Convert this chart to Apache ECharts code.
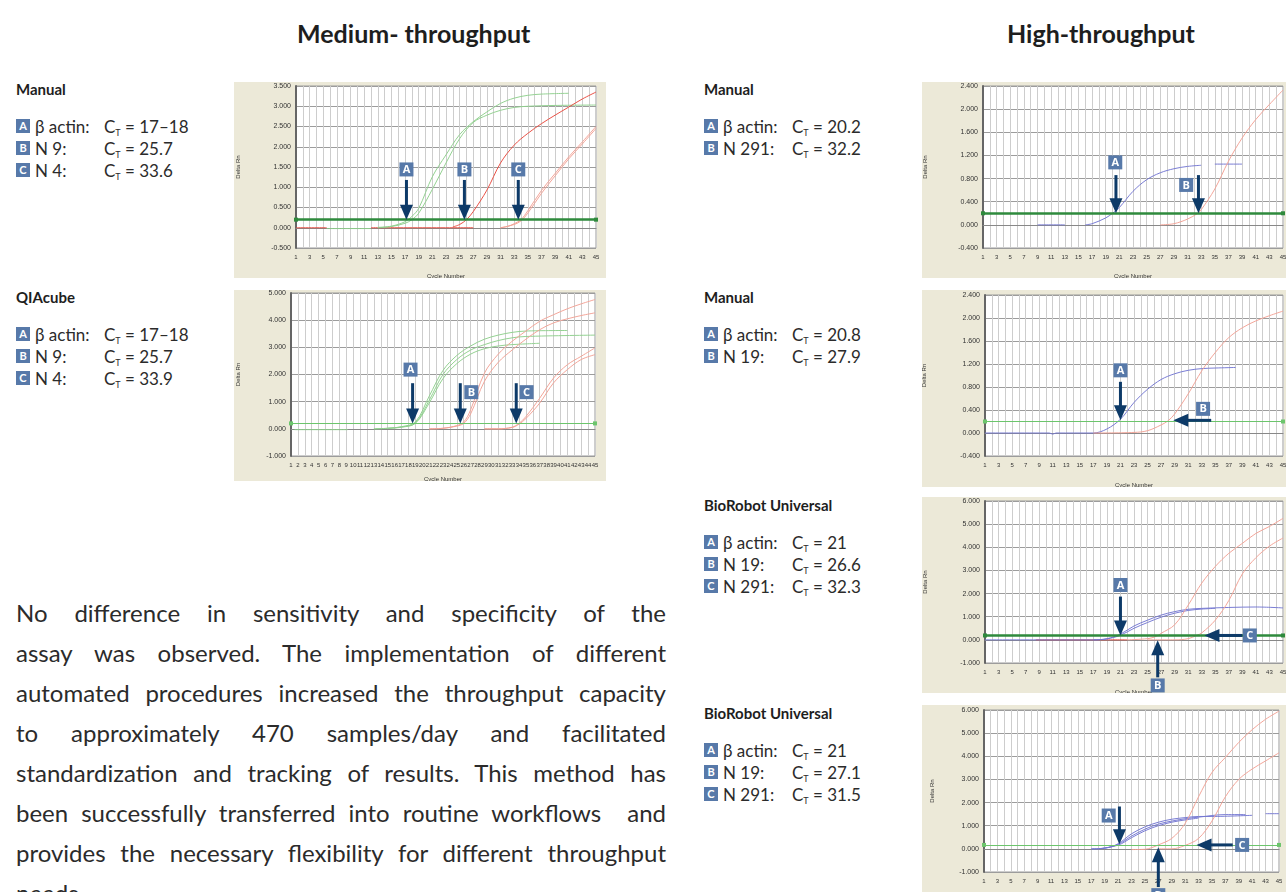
<!DOCTYPE html>
<html lang="en">
<head>
<meta charset="UTF-8">
<title>Medium- and high-throughput</title>
<script src="https://cdn.jsdelivr.net/npm/echarts@6/dist/echarts.min.js"></script>
<style>
    body {margin: 0; width: 1286px; height: 892px; overflow: hidden; position: relative; background: #fff;
        font-family: Lato, "Open Sans", sans-serif; color: #2b2b2b;}
    .head {position: absolute; top: 18px; font-weight: bold; font-size: 25px; color: #1e1e1e;}
    .panel {position: absolute; width: 372px; background: #ece9d8;}
    .key {position: absolute; font-size: 17px;}
    .key .ttl {font-weight: bold; font-size: 15px; height: 36px; color: #1e1e1e;}
    .row {position: relative; height: 22px; white-space: nowrap;}
    .row span {position: absolute; top: 0;}
    .bx {left: 0; top: 3px !important; width: 14px; height: 14px; background: #5779a9; color: #fff;
        font-size: 11px; font-weight: bold; text-align: center; line-height: 14px;}
    .nm {left: 19px;}
    .ct {left: 88px;}
    sub {font-size: 9px; vertical-align: -3px;}
    .para {position: absolute; left: 16px; top: 593px; width: 650px; font-size: 24px; line-height: 40px; color: #2b2b2b;}
    .para div {text-align: justify; text-align-last: justify; white-space: nowrap;}
    .para div.last {text-align-last: left;}
</style>
</head>
<body>
<div class="head" style="left:297px">Medium- throughput</div>
<div class="head" style="left:1007px">High-throughput</div>

<div class="key" style="left:16px;top:80px">
    <div class="ttl">Manual</div>
    <div class="row"><span class="bx">A</span><span class="nm">β actin:</span><span class="ct">C<sub>T</sub> = 17–18</span></div>
    <div class="row"><span class="bx">B</span><span class="nm">N 9:</span><span class="ct">C<sub>T</sub> = 25.7</span></div>
    <div class="row"><span class="bx">C</span><span class="nm">N 4:</span><span class="ct">C<sub>T</sub> = 33.6</span></div>
</div>
<div class="key" style="left:16px;top:288px">
    <div class="ttl">QIAcube</div>
    <div class="row"><span class="bx">A</span><span class="nm">β actin:</span><span class="ct">C<sub>T</sub> = 17–18</span></div>
    <div class="row"><span class="bx">B</span><span class="nm">N 9:</span><span class="ct">C<sub>T</sub> = 25.7</span></div>
    <div class="row"><span class="bx">C</span><span class="nm">N 4:</span><span class="ct">C<sub>T</sub> = 33.9</span></div>
</div>
<div class="key" style="left:704px;top:80px">
    <div class="ttl">Manual</div>
    <div class="row"><span class="bx">A</span><span class="nm">β actin:</span><span class="ct">C<sub>T</sub> = 20.2</span></div>
    <div class="row"><span class="bx">B</span><span class="nm">N 291:</span><span class="ct">C<sub>T</sub> = 32.2</span></div>
</div>
<div class="key" style="left:704px;top:288px">
    <div class="ttl">Manual</div>
    <div class="row"><span class="bx">A</span><span class="nm">β actin:</span><span class="ct">C<sub>T</sub> = 20.8</span></div>
    <div class="row"><span class="bx">B</span><span class="nm">N 19:</span><span class="ct">C<sub>T</sub> = 27.9</span></div>
</div>
<div class="key" style="left:704px;top:496px">
    <div class="ttl">BioRobot Universal</div>
    <div class="row"><span class="bx">A</span><span class="nm">β actin:</span><span class="ct">C<sub>T</sub> = 21</span></div>
    <div class="row"><span class="bx">B</span><span class="nm">N 19:</span><span class="ct">C<sub>T</sub> = 26.6</span></div>
    <div class="row"><span class="bx">C</span><span class="nm">N 291:</span><span class="ct">C<sub>T</sub> = 32.3</span></div>
</div>
<div class="key" style="left:704px;top:704px">
    <div class="ttl">BioRobot Universal</div>
    <div class="row"><span class="bx">A</span><span class="nm">β actin:</span><span class="ct">C<sub>T</sub> = 21</span></div>
    <div class="row"><span class="bx">B</span><span class="nm">N 19:</span><span class="ct">C<sub>T</sub> = 27.1</span></div>
    <div class="row"><span class="bx">C</span><span class="nm">N 291:</span><span class="ct">C<sub>T</sub> = 31.5</span></div>
</div>

<div class="para">
    <div>No difference in sensitivity and specificity of the</div>
    <div>assay was observed. The implementation of different</div>
    <div>automated procedures increased the throughput capacity</div>
    <div>to approximately 470 samples/day and facilitated</div>
    <div>standardization and tracking of results. This method has</div>
    <div>been successfully transferred into routine workflows &nbsp;and</div>
    <div>provides the necessary flexibility for different throughput</div>
    <div class="last">needs.</div>
</div>

<div id="p1" class="panel" style="left:234px;top:82px;height:196px"></div>
<div id="p2" class="panel" style="left:234px;top:290px;height:191px"></div>
<div id="p3" class="panel" style="left:922px;top:82px;height:196px"></div>
<div id="p4" class="panel" style="left:922px;top:290px;height:197px"></div>
<div id="p5" class="panel" style="left:922px;top:497px;height:196px"></div>
<div id="p6" class="panel" style="left:922px;top:705px;height:190px"></div>

<script type="text/javascript">
    // ---- data: [cycle, delta Rn] ----
    // medium, manual
    var m1Range = [-0.5, 3.5, 0.5];
    var m1ActinA = [[13, 0.01], [15, 0.04], [17, 0.15], [18, 0.28], [19, 0.48], [21, 1.26], [23, 1.8], [25, 2.3], [27, 2.62], [29, 2.86], [31, 3.07], [33, 3.2], [35, 3.27], [37, 3.3], [41, 3.32]];
    var m1ActinB = [[13, 0], [15, 0.03], [17, 0.11], [18, 0.2], [19, 0.36], [21, 0.95], [23, 1.6], [25, 2.2], [27, 2.6], [29, 2.78], [31, 2.9], [33, 2.97], [35, 3.0], [39, 3.02], [45, 3.03]];
    var m1N9 = [[24, 0.02], [25, 0.08], [26, 0.2], [27, 0.4], [29, 0.93], [31, 1.6], [33, 2.04], [35, 2.33], [37, 2.57], [39, 2.78], [41, 2.98], [43, 3.18], [45, 3.35]];
    var m1N4a = [[31, 0], [32, 0.03], [33, 0.1], [34, 0.2], [35, 0.42], [37, 0.92], [39, 1.34], [41, 1.75], [43, 2.12], [45, 2.5]];
    var m1N4b = [[31, 0], [33, 0.08], [34, 0.17], [35, 0.36], [37, 0.85], [39, 1.28], [41, 1.7], [43, 2.07], [45, 2.45]];
    var m1BaseRed = [[1, 0], [5.5, 0]];
    var m1BaseGreen = [[5.5, -0.02], [12, -0.02]];
    var m1BaseRed2 = [[12, 0], [27, 0]];

    // medium, QIAcube
    var m2Range = [-1, 5, 1];
    var m2BaseGreen = [[1.5, -0.03], [9.2, -0.03]];
    var m2ActinA = [[13, 0], [15, 0.02], [17, 0.08], [19, 0.25], [21, 1.2], [23, 2.15], [25, 2.7], [27, 3.05], [29, 3.3], [31, 3.45], [33, 3.55], [35, 3.6], [41, 3.62]];
    var m2ActinB = [[13, 0], [15, 0.02], [17, 0.07], [19, 0.22], [21, 1.05], [23, 2.0], [25, 2.55], [27, 2.9], [29, 3.1], [31, 3.25], [33, 3.35], [35, 3.4], [45, 3.45]];
    var m2ActinC = [[15, 0.02], [17, 0.06], [19, 0.2], [21, 0.95], [23, 1.85], [25, 2.4], [27, 2.75], [29, 2.95], [31, 3.05], [33, 3.1], [37, 3.15]];
    var m2N9a = [[21, 0], [23, 0.02], [25, 0.12], [26, 0.25], [27, 0.7], [29, 2.05], [31, 2.75], [33, 3.22], [35, 3.6], [37, 3.96], [39, 4.2], [41, 4.42], [43, 4.6], [45, 4.76]];
    var m2N9b = [[21, 0], [23, 0.02], [25, 0.1], [26, 0.2], [27, 0.55], [29, 1.75], [31, 2.45], [33, 2.9], [35, 3.3], [37, 3.65], [39, 3.9], [41, 4.05], [43, 4.17], [45, 4.27]];
    var m2N4a = [[29, 0], [31, 0], [33, 0.06], [34, 0.2], [35, 0.45], [37, 1.13], [39, 1.87], [41, 2.36], [43, 2.67], [45, 2.98]];
    var m2N4b = [[29, 0], [31, 0], [33, 0.05], [34, 0.17], [35, 0.38], [37, 0.95], [39, 1.69], [41, 2.18], [43, 2.55], [45, 2.73]];

    // high, manual (N 291)
    var h1Range = [-0.4, 2.4, 0.4];
    var h1BaseBlue = [[9, 0], [13, 0]];
    var h1Actin = [[16, 0], [17, 0.02], [19, 0.12], [20, 0.2], [21, 0.3], [23, 0.58], [25, 0.78], [27, 0.9], [29, 0.97], [31, 1.01], [33, 1.03]];
    var h1ActinEnd = [[35, 1.05], [39, 1.05]];
    var h1N291 = [[27, 0], [29, 0.02], [31, 0.1], [32.5, 0.2], [33, 0.26], [35, 0.62], [37, 1.1], [39, 1.5], [41, 1.82], [43, 2.08], [45, 2.33]];

    // high, manual (N 19)
    var h2Range = [-0.4, 2.4, 0.4];
    var h2Actin = [[1, 0], [10.5, 0], [11, -0.02], [11.5, 0], [17, 0], [19, 0.07], [21, 0.24], [23, 0.53], [25, 0.76], [27, 0.93], [29, 1.03], [31, 1.09], [33, 1.12], [35, 1.13], [38, 1.14]];
    var h2N19 = [[17, 0], [23, 0.01], [25, 0.04], [27, 0.14], [28, 0.21], [29, 0.33], [31, 0.68], [33, 1.08], [35, 1.4], [37, 1.66], [39, 1.83], [41, 1.95], [43, 2.04], [45, 2.12]];

    // high, BioRobot 1
    var h3Range = [-1, 6, 1];
    var h3ActinA = [[1, 0], [17, 0], [19, 0.05], [21, 0.25], [23, 0.6], [25, 0.85], [27, 1.07], [29, 1.22], [31, 1.32], [33, 1.36], [37, 1.4], [41, 1.42], [45, 1.38]];
    var h3ActinB = [[17, 0], [19, 0.04], [21, 0.2], [23, 0.5], [25, 0.75], [27, 0.98], [29, 1.15], [31, 1.27], [33, 1.33], [35, 1.36]];
    var h3BaseRed = [[8.5, 0], [10, 0], [18, 0], [22, 0]];
    var h3N19 = [[22, 0], [25, 0.05], [26, 0.12], [26.6, 0.2], [27, 0.28], [29, 0.65], [31, 1.5], [33, 2.45], [35, 3.17], [37, 3.74], [39, 4.17], [41, 4.6], [43, 4.9], [45, 5.25]];
    var h3N291 = [[25, 0], [29, 0], [31, 0.05], [32.3, 0.2], [33, 0.3], [35, 0.85], [37, 1.7], [39, 2.85], [41, 3.55], [43, 4.05], [45, 4.4]];

    // high, BioRobot 2
    var h4Range = [-1, 6, 1];
    var h4ActinA = [[17, 0], [19, 0.03], [21, 0.22], [23, 0.65], [25, 0.95], [27, 1.15], [29, 1.28], [31, 1.35], [33, 1.4], [35, 1.4], [41, 1.45]];
    var h4ActinB = [[17, 0], [19, 0.03], [21, 0.19], [23, 0.55], [25, 0.85], [27, 1.07], [29, 1.2], [31, 1.3], [33, 1.37], [37, 1.48], [40, 1.48]];
    var h4ActinC = [[18, 0], [21, 0.16], [23, 0.48], [25, 0.78], [27, 1.0], [29, 1.15], [31, 1.25], [33, 1.33]];
    var h4ActinEnd = [[43, 1.52], [45, 1.52]];
    var h4N19 = [[23, -0.03], [25, -0.02], [26, 0.05], [27, 0.17], [29, 0.45], [31, 1.1], [33, 2.25], [35, 3.3], [37, 3.95], [39, 4.6], [41, 5.15], [43, 5.6], [45, 5.95]];
    var h4N291 = [[27, 0], [29, 0], [31, 0.15], [33, 0.45], [35, 1.2], [37, 2.25], [39, 3.0], [41, 3.45], [43, 3.8], [45, 4.15]];

    var GREEN = '#8ed08c', RED = '#e8493d', PINK = '#f2a195', BLUE = '#7376d2';
    var NAVY = '#0d3a68', BOXBLUE = '#5779a9';

    function drawPanel(id, o) {
        var chart = echarts.init(document.getElementById(id));
        var series = o.lines.map(function (l) {
            return {
                type: 'line', data: l[0], smooth: 0.35, symbol: 'none', silent: true,
                lineStyle: {color: l[1], width: l[2] || 1, opacity: 0.95}
            };
        });
        series[0].markLine = {
            silent: true, symbol: ['rect', 'rect'], symbolSize: 4,
            label: {show: false},
            lineStyle: {color: o.thick ? '#2e8a3c' : '#6cc56c', width: o.thick ? 2.5 : 1, type: 'solid'},
            data: [{yAxis: o.threshold}]
        };
        chart.setOption({
            animation: false,
            grid: {left: o.grid[0], top: o.grid[1], width: o.grid[2], height: o.grid[3], outerBoundsMode: 'none',
                show: true, backgroundColor: '#fff', borderColor: '#9a9a9a', borderWidth: 1},
            xAxis: {
                type: 'value', min: 1, max: 45, interval: 1,
                name: 'Cycle Number', nameLocation: 'middle', nameGap: o.xGap,
                nameTextStyle: {fontSize: 6, color: '#333', fontFamily: 'Liberation Sans'},
                axisLine: {show: true, lineStyle: {color: '#888'}},
                axisTick: {show: false},
                axisLabel: {fontSize: 6, color: '#333', margin: 6, fontFamily: 'Liberation Sans',
                    formatter: function (v) { return (o.allX || v % 2 === 1) ? v : ''; }},
                splitLine: {show: true, lineStyle: {color: '#cdcdcd', width: 1}}
            },
            yAxis: {
                type: 'value', min: o.range[0], max: o.range[1], interval: o.range[2],
                name: 'Delta Rn', nameLocation: 'middle', nameGap: o.yGap, nameRotate: 90,
                nameTextStyle: {fontSize: 6, color: '#333', fontFamily: 'Liberation Sans'},
                axisLine: {show: true, lineStyle: {color: '#666', width: 2}},
                axisTick: {show: false},
                axisLabel: {fontSize: 7, color: '#333', margin: 5, fontFamily: 'Liberation Sans',
                    formatter: function (v) { return v.toFixed(3); }},
                splitLine: {show: true, lineStyle: {color: '#9c9c9c', width: 1}}
            },
            series: series
        });

        // arrows and letter boxes
        var g = [];
        o.arrows.forEach(function (a) {
            var tip = chart.convertToPixel({gridIndex: 0}, a.tip);
            var tail = chart.convertToPixel({gridIndex: 0}, a.tail);
            var dx = tip[0] - tail[0], dy = tip[1] - tail[1];
            var len = Math.sqrt(dx * dx + dy * dy);
            var ux = dx / len, uy = dy / len;
            var bx = tip[0] - ux * 15, by = tip[1] - uy * 15;
            g.push({type: 'line', z: 100, shape: {x1: tail[0], y1: tail[1], x2: bx + ux * 2, y2: by + uy * 2},
                style: {stroke: NAVY, lineWidth: 3}});
            g.push({type: 'polygon', z: 100, shape: {points: [tip, [bx - uy * 6.5, by + ux * 6.5], [bx + uy * 6.5, by - ux * 6.5]]},
                style: {fill: NAVY}});
            var b = chart.convertToPixel({gridIndex: 0}, a.box);
            g.push({type: 'rect', z: 100, shape: {x: b[0] - 7, y: b[1] - 7, width: 14, height: 14}, style: {fill: BOXBLUE}});
            g.push({type: 'text', z: 101, x: b[0], y: b[1] + 0.5,
                style: {text: a.t, fill: '#fff', font: 'bold 11px "Open Sans"', align: 'center', verticalAlign: 'middle'}});
        });
        chart.setOption({graphic: g});
    }

    drawPanel('p1', {
        grid: [62, 4, 300, 162], range: m1Range, threshold: 0.2, thick: true, xGap: 25, yGap: 55,
        lines: [[m1BaseRed, RED], [m1BaseGreen, GREEN], [m1BaseRed2, RED], [m1ActinA, GREEN], [m1ActinB, GREEN],
            [m1N9, RED], [m1N4a, PINK], [m1N4b, PINK]],
        arrows: [
            {tip: [17.2, 0.2], tail: [17.2, 1.18], box: [17.2, 1.44], t: 'A'},
            {tip: [25.7, 0.2], tail: [25.7, 1.18], box: [25.7, 1.44], t: 'B'},
            {tip: [33.6, 0.2], tail: [33.6, 1.18], box: [33.6, 1.44], t: 'C'}
        ]
    });
    drawPanel('p2', {
        grid: [57, 3, 304, 163], range: m2Range, threshold: 0.2, thick: false, xGap: 20, yGap: 50, allX: true,
        lines: [[m2BaseGreen, GREEN], [m2ActinA, GREEN], [m2ActinB, GREEN], [m2ActinC, GREEN],
            [m2N9a, PINK], [m2N9b, PINK], [m2N4a, PINK], [m2N4b, PINK]],
        arrows: [
            {tip: [18.6, 0.2], tail: [18.6, 1.68], box: [18.3, 2.18], t: 'A'},
            {tip: [25.5, 0.2], tail: [25.5, 1.68], box: [27.1, 1.35], t: 'B'},
            {tip: [33.6, 0.2], tail: [33.6, 1.68], box: [35.1, 1.35], t: 'C'}
        ]
    });
    drawPanel('p3', {
        grid: [61, 4, 300, 162], range: h1Range, threshold: 0.2, thick: true, xGap: 25, yGap: 55,
        lines: [[h1BaseBlue, BLUE], [h1Actin, BLUE], [h1ActinEnd, BLUE], [h1N291, PINK]],
        arrows: [
            {tip: [20.5, 0.2], tail: [20.5, 0.86], box: [20.4, 1.08], t: 'A'},
            {tip: [32.6, 0.2], tail: [32.6, 0.86], box: [30.8, 0.69], t: 'B'}
        ]
    });
    drawPanel('p4', {
        grid: [63, 5, 298, 161], range: h2Range, threshold: 0.2, thick: false, xGap: 26, yGap: 58,
        lines: [[h2Actin, BLUE], [h2N19, PINK]],
        arrows: [
            {tip: [21.0, 0.22], tail: [21.0, 0.89], box: [21.0, 1.09], t: 'A'},
            {tip: [28.8, 0.22], tail: [34.4, 0.22], box: [33.2, 0.42], t: 'B'}
        ]
    });
    drawPanel('p5', {
        grid: [63, 4, 298, 162], range: h3Range, threshold: 0.19, thick: true, xGap: 26, yGap: 57,
        lines: [[h3BaseRed, RED], [h3ActinA, BLUE], [h3ActinB, BLUE], [h3N19, PINK], [h3N291, PINK]],
        arrows: [
            {tip: [21.0, 0.19], tail: [21.0, 1.87], box: [21.0, 2.37], t: 'A'},
            {tip: [26.5, -0.02], tail: [26.5, -1.62], box: [26.5, -1.97], t: 'B'},
            {tip: [33.4, 0.19], tail: [39.0, 0.19], box: [40.1, 0.19], t: 'C'}
        ]
    });
    drawPanel('p6', {
        grid: [62, 5, 295, 162], range: h4Range, threshold: 0.17, thick: false, xGap: 25, yGap: 49,
        lines: [[h4ActinA, BLUE], [h4ActinB, BLUE], [h4ActinC, BLUE], [h4ActinEnd, BLUE], [h4N19, PINK], [h4N291, PINK]],
        arrows: [
            {tip: [21.2, 0.2], tail: [21.2, 1.83], box: [19.6, 1.44], t: 'A'},
            {tip: [27.0, 0.07], tail: [27.0, -1.65], box: [27.0, -2.0], t: 'B'},
            {tip: [32.7, 0.17], tail: [38.1, 0.17], box: [39.5, 0.17], t: 'C'}
        ]
    });
</script>
</body>
</html>
